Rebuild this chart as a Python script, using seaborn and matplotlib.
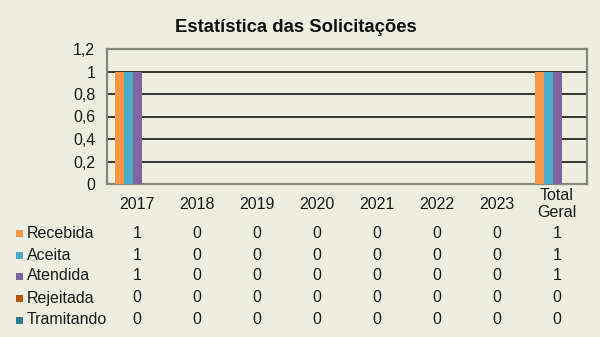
import matplotlib
matplotlib.use("Agg")
import matplotlib.pyplot as plt
import matplotlib.transforms as mtransforms
from matplotlib.patches import Rectangle
import pandas as pd
import seaborn as sns

# Request statistics per year
categories = ["2017", "2018", "2019", "2020", "2021", "2022", "2023", "Total\nGeral"]
series = ["Recebida", "Aceita", "Atendida", "Rejeitada", "Tramitando"]
recebida = [1, 0, 0, 0, 0, 0, 0, 1]
aceita = [1, 0, 0, 0, 0, 0, 0, 1]
atendida = [1, 0, 0, 0, 0, 0, 0, 1]
rejeitada = [0, 0, 0, 0, 0, 0, 0, 0]
tramitando = [0, 0, 0, 0, 0, 0, 0, 0]
values = [recebida, aceita, atendida, rejeitada, tramitando]
colors = ["#F79646", "#4BACC6", "#8064A2", "#B65708", "#2F7D8F"]
y_ticks = [0, 0.2, 0.4, 0.6, 0.8, 1.0, 1.2]

df = pd.DataFrame(
    [(c, s, v) for s, vals in zip(series, values) for c, v in zip(categories, vals)],
    columns=["categoria", "situacao", "valor"],
)

sns.set_theme(style="white")
plt.rcParams["font.family"] = ["Liberation Sans", "DejaVu Sans"]

bg = "#EDEEE0"
txt = "#1a1a1a"
fs = 11.5
fig = plt.figure(figsize=(6, 3.37), dpi=100, facecolor=bg)
W, H = 600, 337
left, right, top, bottom = 107, 587, 49, 184
ax = fig.add_axes([left / W, 1 - bottom / H, (right - left) / W, (bottom - top) / H])
ax.set_facecolor(bg)

sns.barplot(data=df, x="categoria", y="valor", hue="situacao", order=categories,
            hue_order=series, palette=colors, width=0.75, saturation=1,
            edgecolor="none", linewidth=0, legend=False, ax=ax, zorder=3)

ax.set_xlim(-0.5, len(categories) - 0.5)
ax.set_ylim(0, 1.2)
ax.set_yticks(y_ticks)
ax.set_yticklabels([f"{t:g}".replace(".", ",") for t in y_ticks], fontsize=fs, color=txt)
for t in y_ticks[1:-1]:
    ax.axhline(t, color="black", lw=1.1, zorder=2)
ax.set_xticks(range(len(categories)))
ax.set_xticklabels(categories, fontsize=fs, color=txt, linespacing=1.15)
for lab in ax.get_xticklabels():
    lab.set_va("center")
ax.tick_params(axis="x", length=0, pad=14.5)
ax.tick_params(axis="y", length=0, pad=8.5)
ax.set_xlabel("")
ax.set_ylabel("")
for sp in ax.spines.values():
    sp.set_color("#85877C")
    sp.set_linewidth(1.6)

fig.text(296 / W, 1 - 27 / H, "Estatística das Solicitações", ha="center", va="center",
         fontsize=13.3, fontweight="bold", color="#111111")

# Data table below the chart
trans = mtransforms.blended_transform_factory(ax.transData, fig.transFigure)
row_y = [233, 255, 276, 298, 320]
for s, vals, col, y in zip(series, values, colors, row_y):
    fy = 1 - y / H
    fig.patches.append(Rectangle((16 / W, fy - 3.5 / H), 7 / W, 7 / H, transform=fig.transFigure,
                                 facecolor=col, edgecolor="none", figure=fig))
    fig.text(27 / W, fy, s, ha="left", va="center", fontsize=fs, color=txt)
    for i, v in enumerate(vals):
        ax.text(i, fy, f"{v}", transform=trans, ha="center", va="center", fontsize=fs,
                color=txt, clip_on=False)

fig.savefig("out.png", dpi=100, facecolor=bg)
